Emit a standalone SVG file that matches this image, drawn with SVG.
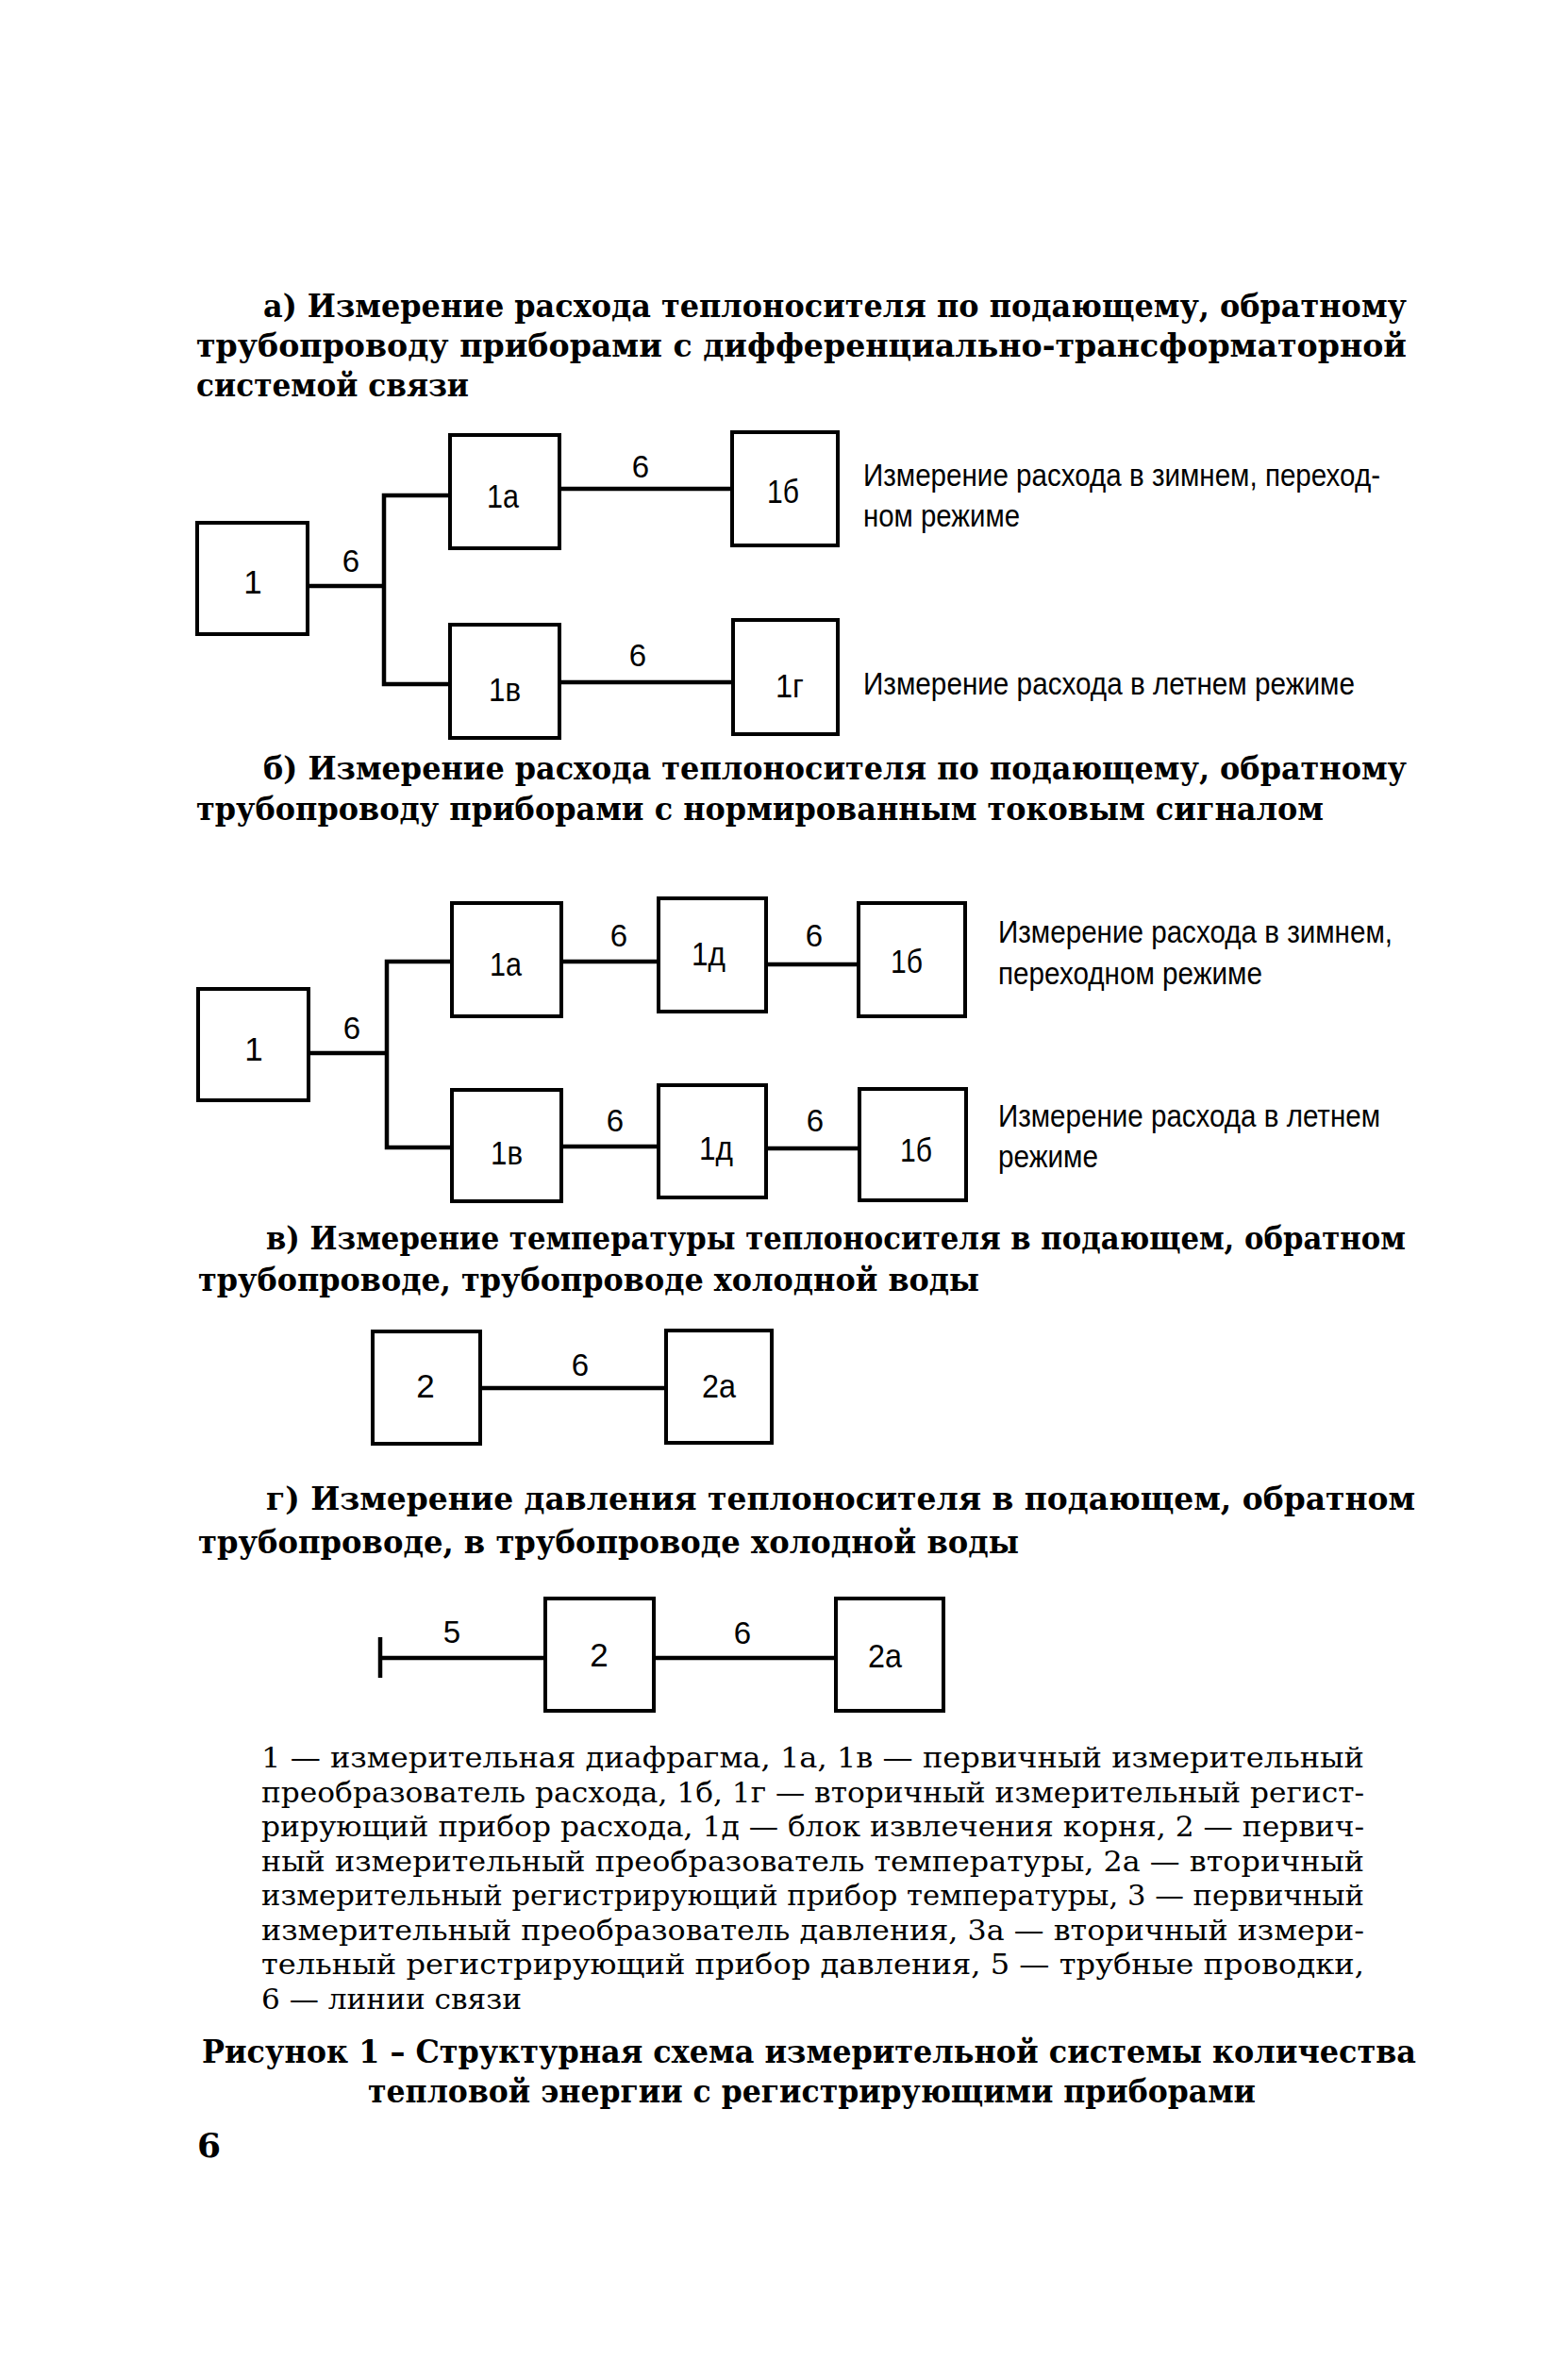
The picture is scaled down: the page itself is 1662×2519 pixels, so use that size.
<svg xmlns="http://www.w3.org/2000/svg" width="1662" height="2519" viewBox="0 0 1662 2519">
<style>
.box{fill:#fff;stroke:#000;stroke-width:4}
.ln{stroke:#000;stroke-width:4.5;fill:none}
.title{font-family:"DejaVu Serif","Liberation Serif",serif;font-weight:bold;font-size:34px;fill:#000}
.legend{font-family:"DejaVu Serif","Liberation Serif",serif;font-size:29px;fill:#000}
.lbl{font-family:"Liberation Sans",Arial,sans-serif;font-size:35px;text-anchor:middle;fill:#000}
.num{font-family:"Liberation Sans",Arial,sans-serif;font-size:33px;text-anchor:middle;fill:#000}
.note{font-family:"Liberation Sans",Arial,sans-serif;font-size:33px;fill:#000}
</style>
<rect width="1662" height="2519" fill="#fff"/>

<!-- Titles -->
<g id="title-a">
<text class="title" x="279" y="336" textLength="1212" lengthAdjust="spacingAndGlyphs">а) Измерение расхода теплоносителя по подающему, обратному</text>
<text class="title" x="208" y="378" textLength="1283" lengthAdjust="spacingAndGlyphs">трубопроводу приборами с дифференциально-трансформаторной</text>
<text class="title" x="208" y="420" textLength="289" lengthAdjust="spacingAndGlyphs">системой связи</text>
</g>
<g id="title-b">
<text class="title" x="279" y="826" textLength="1212" lengthAdjust="spacingAndGlyphs">б) Измерение расхода теплоносителя по подающему, обратному</text>
<text class="title" x="208" y="869" textLength="1195" lengthAdjust="spacingAndGlyphs">трубопроводу приборами с нормированным токовым сигналом</text>
</g>
<g id="title-v">
<text class="title" x="282" y="1324" textLength="1208" lengthAdjust="spacingAndGlyphs">в) Измерение температуры теплоносителя в подающем, обратном</text>
<text class="title" x="210" y="1368" textLength="828" lengthAdjust="spacingAndGlyphs">трубопроводе, трубопроводе холодной воды</text>
</g>
<g id="title-g">
<text class="title" x="282" y="1600" textLength="1218" lengthAdjust="spacingAndGlyphs">г) Измерение давления теплоносителя в подающем, обратном</text>
<text class="title" x="210" y="1646" textLength="870" lengthAdjust="spacingAndGlyphs">трубопроводе, в трубопроводе холодной воды</text>
</g>

<!-- Connectors -->
<g id="connectors">
<polyline class="ln" points="326,621 407,621"/>
<polyline class="ln" points="477,525 407,525 407,725 477,725"/>
<line class="ln" x1="593" y1="518" x2="776" y2="518"/>
<line class="ln" x1="593" y1="723" x2="777" y2="723"/>
<polyline class="ln" points="327,1116 410,1116"/>
<polyline class="ln" points="479,1019 410,1019 410,1216 479,1216"/>
<line class="ln" x1="595" y1="1019" x2="698" y2="1019"/>
<line class="ln" x1="812" y1="1022" x2="910" y2="1022"/>
<line class="ln" x1="595" y1="1215" x2="698" y2="1215"/>
<line class="ln" x1="812" y1="1217" x2="911" y2="1217"/>
<line class="ln" x1="509" y1="1471" x2="706" y2="1471"/>
<line class="ln" x1="403" y1="1735" x2="403" y2="1778"/>
<line class="ln" x1="403" y1="1757" x2="578" y2="1757"/>
<line class="ln" x1="693" y1="1757" x2="886" y2="1757"/>
<text class="num" x="372" y="606">6</text>
<text class="num" x="679" y="506">6</text>
<text class="num" x="676" y="706">6</text>
<text class="num" x="373" y="1101">6</text>
<text class="num" x="656" y="1003">6</text>
<text class="num" x="863" y="1003">6</text>
<text class="num" x="652" y="1199">6</text>
<text class="num" x="864" y="1199">6</text>
<text class="num" x="615" y="1458">6</text>
<text class="num" x="479" y="1741">5</text>
<text class="num" x="787" y="1742">6</text>
</g>

<!-- Nodes a -->
<g id="a-1"><rect class="box" x="209" y="554" width="117" height="118"/><text class="lbl" x="268" y="629">1</text></g>
<g id="a-1a"><rect class="box" x="477" y="461" width="116" height="120"/><text class="lbl" x="533" y="538" textLength="34" lengthAdjust="spacingAndGlyphs">1а</text></g>
<g id="a-1b"><rect class="box" x="776" y="458" width="112" height="120"/><text class="lbl" x="830" y="533" textLength="34" lengthAdjust="spacingAndGlyphs">1б</text></g>
<g id="a-1v"><rect class="box" x="477" y="662" width="116" height="120"/><text class="lbl" x="535" y="743" textLength="34" lengthAdjust="spacingAndGlyphs">1в</text></g>
<g id="a-1g"><rect class="box" x="777" y="657" width="111" height="121"/><text class="lbl" x="837" y="739" textLength="30" lengthAdjust="spacingAndGlyphs">1г</text></g>
<g id="a-notes">
<text class="note" x="915" y="515" textLength="548" lengthAdjust="spacingAndGlyphs">Измерение расхода в зимнем, переход-</text>
<text class="note" x="915" y="558" textLength="166" lengthAdjust="spacingAndGlyphs">ном режиме</text>
<text class="note" x="915" y="736" textLength="521" lengthAdjust="spacingAndGlyphs">Измерение расхода в летнем режиме</text>
</g>

<!-- Nodes b -->
<g id="b-1"><rect class="box" x="210" y="1048" width="117" height="118"/><text class="lbl" x="269" y="1124">1</text></g>
<g id="b-1a"><rect class="box" x="479" y="957" width="116" height="120"/><text class="lbl" x="536" y="1034" textLength="34" lengthAdjust="spacingAndGlyphs">1а</text></g>
<g id="b-1d-top"><rect class="box" x="698" y="952" width="114" height="120"/><text class="lbl" x="751" y="1023" textLength="36" lengthAdjust="spacingAndGlyphs">1д</text></g>
<g id="b-1b-top"><rect class="box" x="910" y="957" width="113" height="120"/><text class="lbl" x="961" y="1031" textLength="34" lengthAdjust="spacingAndGlyphs">1б</text></g>
<g id="b-1v"><rect class="box" x="479" y="1155" width="116" height="118"/><text class="lbl" x="537" y="1234" textLength="34" lengthAdjust="spacingAndGlyphs">1в</text></g>
<g id="b-1d-bot"><rect class="box" x="698" y="1150" width="114" height="119"/><text class="lbl" x="759" y="1229" textLength="36" lengthAdjust="spacingAndGlyphs">1д</text></g>
<g id="b-1b-bot"><rect class="box" x="911" y="1154" width="113" height="118"/><text class="lbl" x="971" y="1231" textLength="34" lengthAdjust="spacingAndGlyphs">1б</text></g>
<g id="b-notes">
<text class="note" x="1058" y="999" textLength="418" lengthAdjust="spacingAndGlyphs">Измерение расхода в зимнем,</text>
<text class="note" x="1058" y="1043" textLength="280" lengthAdjust="spacingAndGlyphs">переходном режиме</text>
<text class="note" x="1058" y="1194" textLength="405" lengthAdjust="spacingAndGlyphs">Измерение расхода в летнем</text>
<text class="note" x="1058" y="1237" textLength="106" lengthAdjust="spacingAndGlyphs">режиме</text>
</g>

<!-- Nodes v -->
<g id="v-2"><rect class="box" x="395" y="1411" width="114" height="119"/><text class="lbl" x="451" y="1481">2</text></g>
<g id="v-2a"><rect class="box" x="706" y="1410" width="112" height="119"/><text class="lbl" x="762" y="1481" textLength="36" lengthAdjust="spacingAndGlyphs">2а</text></g>

<!-- Nodes g -->
<g id="g-2"><rect class="box" x="578" y="1694" width="115" height="119"/><text class="lbl" x="635" y="1766">2</text></g>
<g id="g-2a"><rect class="box" x="886" y="1694" width="114" height="119"/><text class="lbl" x="938" y="1767" textLength="36" lengthAdjust="spacingAndGlyphs">2а</text></g>

<!-- Legend -->
<g id="legend">
<text class="legend" x="277" y="1873" textLength="1169" lengthAdjust="spacingAndGlyphs">1 — измерительная диафрагма, 1а, 1в — первичный измерительный</text>
<text class="legend" x="277" y="1909.5" textLength="1169" lengthAdjust="spacingAndGlyphs">преобразователь расхода, 1б, 1г — вторичный измерительный регист-</text>
<text class="legend" x="277" y="1946" textLength="1169" lengthAdjust="spacingAndGlyphs">рирующий прибор расхода, 1д — блок извлечения корня, 2 — первич-</text>
<text class="legend" x="277" y="1982.5" textLength="1169" lengthAdjust="spacingAndGlyphs">ный измерительный преобразователь температуры, 2а — вторичный</text>
<text class="legend" x="277" y="2019" textLength="1169" lengthAdjust="spacingAndGlyphs">измерительный регистрирующий прибор температуры, 3 — первичный</text>
<text class="legend" x="277" y="2055.5" textLength="1169" lengthAdjust="spacingAndGlyphs">измерительный преобразователь давления, 3а — вторичный измери-</text>
<text class="legend" x="277" y="2092" textLength="1169" lengthAdjust="spacingAndGlyphs">тельный регистрирующий прибор давления, 5 — трубные проводки,</text>
<text class="legend" x="277" y="2128.5" textLength="276" lengthAdjust="spacingAndGlyphs">6 — линии связи</text>
</g>

<!-- Caption -->
<g id="caption">
<text class="title" x="214" y="2186" textLength="1287" lengthAdjust="spacingAndGlyphs">Рисунок 1 – Структурная схема измерительной системы количества</text>
<text class="title" x="390" y="2228" textLength="941" lengthAdjust="spacingAndGlyphs">тепловой энергии с регистрирующими приборами</text>
</g>
<g id="page-number">
<text class="title" x="209" y="2286" style="font-size:36px">6</text>
</g>
</svg>
